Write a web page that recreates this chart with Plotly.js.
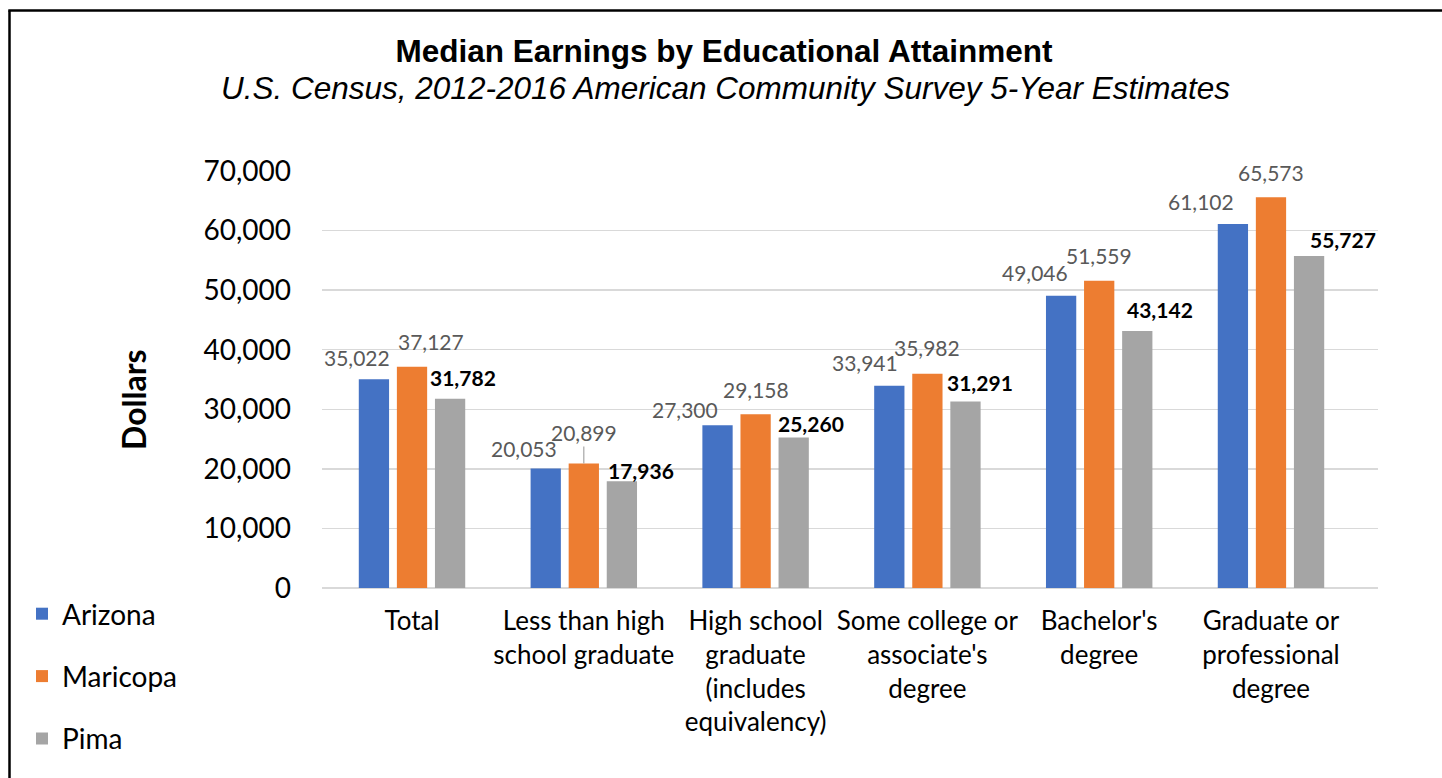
<!DOCTYPE html>
<html>
<head>
<meta charset="utf-8">
<script src="https://cdn.plot.ly/plotly-3.0.1.min.js"></script>
<style>
  html, body { margin: 0; padding: 0; background: #ffffff; }
  #chart { width: 1442px; height: 778px; }
</style>
</head>
<body>
<div id="chart"></div>
<script>
// ---- Data ----
const categories = [
  "Total",
  "Less than high<br>school graduate",
  "High school<br>graduate<br>(includes<br>equivalency)",
  "Some college or<br>associate's<br>degree",
  "Bachelor's<br>degree",
  "Graduate or<br>professional<br>degree"
];
const seriesNames = ["Arizona", "Maricopa", "Pima"];
const arizona  = [35022, 20053, 27300, 33941, 49046, 61102];
const maricopa = [37127, 20899, 29158, 35982, 51559, 65573];
const pima     = [31782, 17936, 25260, 31291, 43142, 55727];
const yTicks = [0, 10000, 20000, 30000, 40000, 50000, 60000, 70000];
const titleText = "Median Earnings by Educational Attainment";
const subtitleText = "U.S. Census, 2012-2016 American Community Survey 5-Year Estimates";
const yTitleText = "Dollars";

// ---- Styling / layout settings ----
const colors = ["#4472C4", "#ED7D31", "#A5A5A5"];
const W = 1442, H = 778;
const M = { l: 322, r: 64, t: 171, b: 190, autoexpand: false };
const plotW = W - M.l - M.r, plotH = H - M.t - M.b;
const bargap = 0.335, bargroupgap = 0.205;
const slotPx = (plotW / categories.length) * (1 - bargap) / 3;

// label placement (pixel nudges relative to each bar top centre)
const labelDX = [[-16, -21, -32, -23, -25, -31], [19, 0, 0, 0, 0, 0], [12, 18, 16, 14, 22, 33]];
const labelDY = [[22, 20, 16, 23, 23, 23], [25, 31, 25, 26, 25, 25], [21, 11, 14, 19, 22, 17]];
const leader = [[false, false, false, false, false, false], [false, true, false, false, false, false], [false, false, false, false, false, false]];

const FONT = "Lato, 'Noto Sans', sans-serif";
const TFONT = "'Liberation Sans', Arial, sans-serif";
const values = [arizona, maricopa, pima];

const traces = values.map((vals, s) => ({
  type: "bar",
  name: seriesNames[s],
  x: categories,
  y: vals,
  legendgroup: "g" + s,
  marker: { color: colors[s], line: { width: 0 } },
  hoverinfo: "x+y+name"
}));

const px2x = p => (p - M.l) / plotW;
const py2y = p => (H - M.b - p) / plotH;

const fmt = v => v.toLocaleString("en-US");
const annotations = [];
values.forEach((vals, s) => {
  vals.forEach((v, i) => {
    const bold = s === 2;
    const a = {
      x: categories[i], y: v, xref: "x", yref: "y",
      text: bold ? "<b>" + fmt(v) + "</b>" : fmt(v),
      font: { family: FONT, size: 21, color: bold ? "#000000" : "#595959" },
      xshift: (s - 1) * slotPx + labelDX[s][i],
      xanchor: "center", yanchor: "middle"
    };
    if (leader[s][i]) {
      a.showarrow = true; a.arrowhead = 0; a.arrowwidth = 1.2; a.arrowcolor = "#A6A6A6";
      a.ax = 0; a.ay = -labelDY[s][i]; a.standoff = 0;
    } else {
      a.showarrow = false; a.yshift = labelDY[s][i];
    }
    annotations.push(a);
  });
});
// subtitle
annotations.push({
  xref: "paper", yref: "paper", x: px2x(W / 2 + 4), y: py2y(88),
  xanchor: "center", yanchor: "middle", showarrow: false,
  text: "<i>" + subtitleText + "</i>",
  font: { family: TFONT, size: 31.5, color: "#000000" }
});
// y-axis title
annotations.push({
  xref: "paper", yref: "paper", x: px2x(133), y: py2y(400),
  xanchor: "center", yanchor: "middle", showarrow: false, textangle: -90,
  text: "<b>" + yTitleText + "</b>",
  font: { family: FONT, size: 32, color: "#000000" }
});

// frame (left, top border of the chart area)
const shapes = [
  { type: "line", xref: "paper", yref: "paper", x0: px2x(9.5), x1: px2x(9.5), y0: py2y(10.5), y1: py2y(H + 5), line: { color: "#000", width: 2.5 } },
  { type: "line", xref: "paper", yref: "paper", x0: px2x(8.3), x1: px2x(W + 5), y0: py2y(10.5), y1: py2y(10.5), line: { color: "#000", width: 2.5 } }
];

const layout = {
  width: W, height: H,
  margin: M,
  paper_bgcolor: "#ffffff", plot_bgcolor: "#ffffff",
  font: { family: FONT, color: "#000000" },
  title: {
    text: "<b>" + titleText + "</b>",
    font: { family: TFONT, size: 31.5, color: "#000000" },
    x: (W / 2 + 3) / W, xref: "container", xanchor: "center",
    y: 1 - 51 / H, yref: "container", yanchor: "middle"
  },
  barmode: "group",
  bargap: bargap, bargroupgap: bargroupgap,
  xaxis: {
    type: "category",
    tickfont: { family: FONT, size: 26, color: "#000000" },
    showgrid: false, showline: false, ticks: "", zeroline: false,
    ticklabelstandoff: 15, fixedrange: true, automargin: false
  },
  yaxis: {
    range: [0, 70000],
    tickvals: yTicks, tickformat: ",d",
    tickfont: { family: FONT, size: 28, color: "#000000" },
    showgrid: true, gridcolor: "#D9D9D9", gridwidth: 1.5,
    zeroline: true, zerolinecolor: "#D9D9D9", zerolinewidth: 1.5,
    showline: false, ticks: "", ticklabelstandoff: 30,
    fixedrange: true, automargin: false
  },
  showlegend: true,
  legend: {
    x: px2x(22), xanchor: "left", xref: "paper",
    y: py2y(589), yanchor: "top", yref: "paper",
    orientation: "v",
    traceorder: "grouped",
    tracegroupgap: 23,
    font: { family: FONT, size: 28, color: "#000000" },
    bgcolor: "rgba(0,0,0,0)"
  },
  annotations: annotations,
  shapes: shapes
};

Plotly.newPlot("chart", traces, layout, { displayModeBar: false, staticPlot: true });
</script>
</body>
</html>
